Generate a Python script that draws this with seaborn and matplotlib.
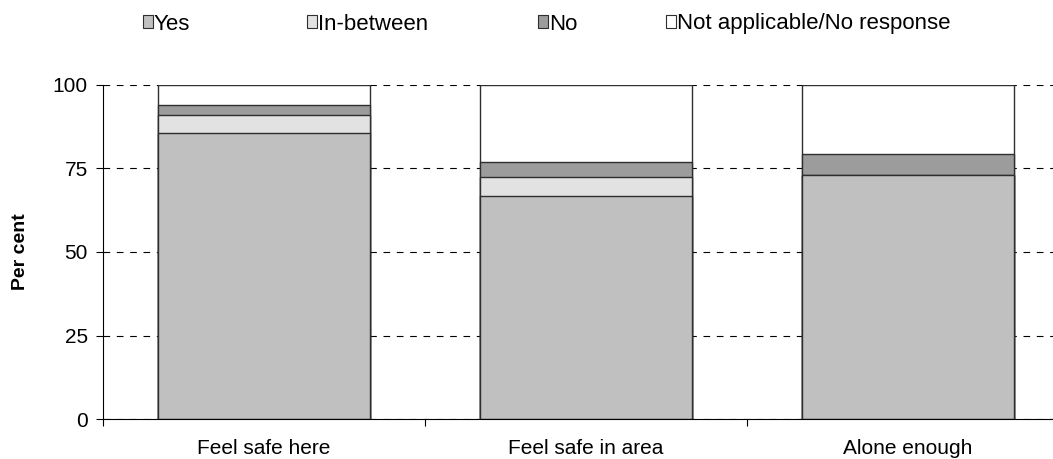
import numpy as np
import pandas as pd
import matplotlib
matplotlib.use("Agg")
import matplotlib.pyplot as plt
from matplotlib.patches import Patch
from matplotlib.ticker import FixedLocator
import seaborn as sns

categories = ["Feel safe here", "Feel safe in area", "Alone enough"]
series_names = ["Yes", "In-between", "No", "Not applicable/No response"]
yes = [85.6, 66.8, 73.1]
in_between = [5.3, 5.5, 0.0]
no = [3.1, 4.7, 6.2]
not_applicable = [6.0, 23.0, 20.7]
y_ticks = [0, 25, 50, 75, 100]

colors = ["#c0c0c0", "#e2e2e2", "#9c9c9c", "#ffffff"]
edge = "#2e2e2e"

sns.set_theme(style="white")
plt.rcParams["font.family"] = ["Liberation Sans", "DejaVu Sans"]
plt.rcParams.update({"text.color": "black", "axes.labelcolor": "black",
                     "xtick.color": "black", "ytick.color": "black"})

layers = [yes, in_between, no, not_applicable]
cum = np.cumsum(np.array(layers), axis=0)

fig = plt.figure(figsize=(10.53, 4.59), dpi=100)
ax = fig.add_axes([103 / 1053, (459 - 419.1) / 459, 966 / 1053, 334.4 / 459])

# Stacked bars: draw cumulative totals from the top layer down
for i in range(len(layers) - 1, -1, -1):
    df = pd.DataFrame({"category": categories, "value": cum[i]})
    sns.barplot(data=df, x="category", y="value", ax=ax, color=colors[i],
                saturation=1, width=0.66, edgecolor=edge, linewidth=1.0,
                zorder=2 + (len(layers) - i) * 0.01)

ax.set_xlim(-0.5, 2.5)
ax.set_ylim(0, 100)
ax.set_yticks(y_ticks)
ax.set_yticklabels([str(t) for t in y_ticks], fontsize=15)
ax.yaxis.grid(True, color="black", linestyle=(0, (6, 6)), linewidth=0.8)
ax.set_axisbelow(True)

ax.set_xticks(range(len(categories)))
ax.set_xticklabels(categories, fontsize=15)
ax.xaxis.set_minor_locator(FixedLocator([-0.5, 0.5, 1.5, 2.5]))
ax.tick_params(axis="x", which="major", length=0, pad=14)
ax.tick_params(axis="x", which="minor", length=5, width=0.8, color="black",
               direction="out", bottom=True)
ax.tick_params(axis="y", length=5, width=0.8, color="black", direction="out",
               left=True, pad=6)
ax.set_xlabel("")
ax.set_ylabel("Per cent", fontsize=14, fontweight="bold", labelpad=17)

for side in ["top", "right"]:
    ax.spines[side].set_visible(False)
for side in ["left", "bottom"]:
    ax.spines[side].set_color("black")
    ax.spines[side].set_linewidth(0.8)

# Legend entries placed across the top
legend_x = [143, 307, 538, 666]
for name, col, x in zip(series_names, colors, legend_x):
    handle = Patch(facecolor=col, edgecolor=edge, linewidth=0.8, label=name)
    fig.legend(handles=[handle], loc="center left",
               bbox_to_anchor=(x / 1053, 1 - 24 / 459), frameon=False,
               fontsize=16, handlelength=0.47, handleheight=0.47,
               handletextpad=0.02, borderpad=0, borderaxespad=0)

fig.savefig("out.png", dpi=100)
